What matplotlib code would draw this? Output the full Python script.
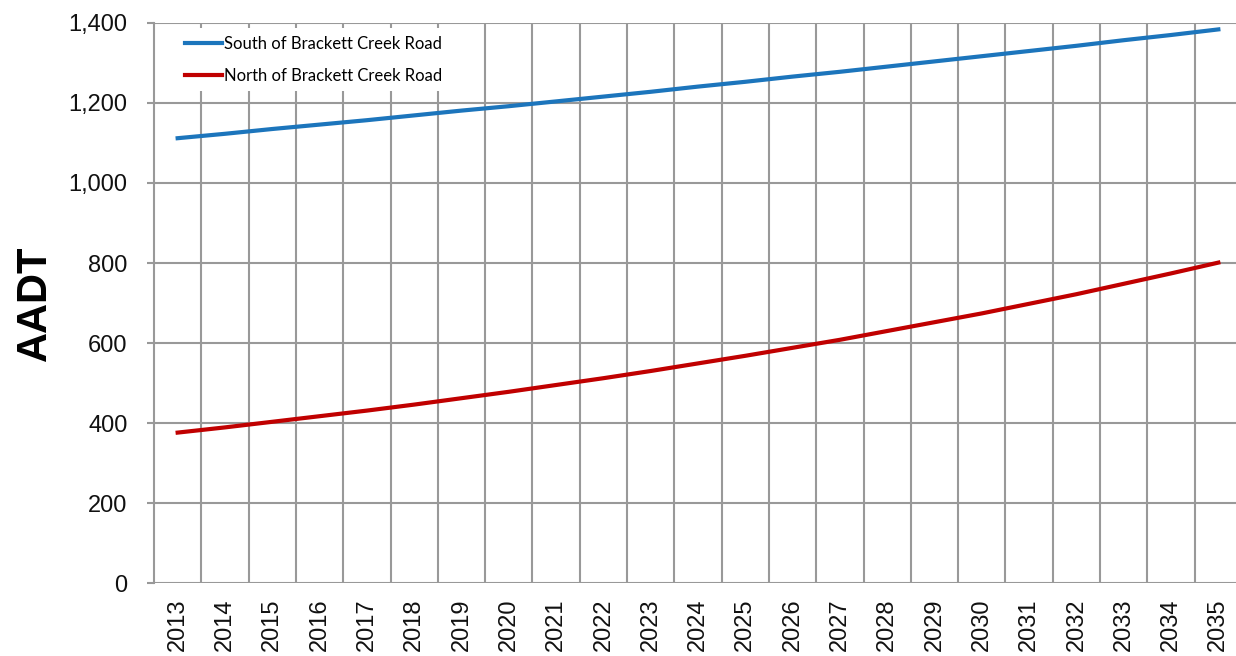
import matplotlib as mpl
mpl.use('Agg')
import matplotlib.pyplot as plt
from matplotlib.ticker import FuncFormatter, MultipleLocator

years = [str(y) for y in range(2013, 2036)]
south = [1112, 1123, 1135, 1146, 1157, 1169, 1181, 1192, 1204, 1216, 1228, 1241,
         1253, 1266, 1278, 1291, 1304, 1317, 1330, 1343, 1357, 1370, 1384]
north = [376, 389, 403, 417, 431, 446, 462, 478, 495, 512, 530, 549,
         568, 588, 608, 630, 652, 674, 698, 722, 748, 774, 801]

W, H = 1236, 656
fig = plt.figure(figsize=(W / 100, H / 100), dpi=100)
ax = fig.add_axes([154 / W, 1 - 583 / H, (1242 - 154) / W, (583 - 23) / H])

x = list(range(len(years)))
ax.plot(x, south, color='#1C75BC', lw=3, label='South of Brackett Creek Road', zorder=3)
ax.plot(x, north, color='#C00000', lw=3, label='North of Brackett Creek Road', zorder=3)

grid_c = '#999999'
ax.set_xlim(-0.5, len(years) - 0.5)
ax.set_ylim(0, 1400)
ax.yaxis.set_major_locator(MultipleLocator(200))
ax.yaxis.set_major_formatter(FuncFormatter(lambda v, p: '{:,.0f}'.format(v)))
ax.set_xticks(x)
ax.set_xticklabels(years, rotation=90)
ax.set_xticks([i + 0.5 for i in x[:-1]], minor=True)

ax.grid(axis='y', which='major', color=grid_c, lw=1.5)
ax.grid(axis='x', which='minor', color=grid_c, lw=1.5)
ax.set_axisbelow(True)
for s in ['top', 'right', 'bottom']:
    ax.spines[s].set_visible(False)
ax.spines['left'].set_color(grid_c)
ax.spines['left'].set_linewidth(1.5)

ax.tick_params(axis='y', length=5, width=1.5, color=grid_c, pad=14,
               labelsize=17, labelcolor='#111111')
ax.tick_params(axis='x', which='major', length=0, pad=11,
               labelsize=17, labelcolor='#111111')
ax.tick_params(axis='x', which='minor', length=0)
for t in ax.get_xticklabels() + ax.get_yticklabels():
    t.set_fontfamily('Liberation Sans')

fig.text(35 / W, 1 - 303 / H, 'AADT', rotation=90, fontsize=30, fontweight='bold',
         family='Liberation Sans', ha='center', va='center')

leg = ax.legend(loc='upper left', bbox_to_anchor=(174 / W, 1 - 25 / H),
                bbox_transform=fig.transFigure, frameon=True, framealpha=1,
                edgecolor='white', fancybox=False, handlelength=2.25,
                handletextpad=0.1, labelspacing=0.95, borderpad=0.45,
                borderaxespad=0.2, prop={'family': 'Lato', 'size': 12})
leg.get_frame().set_linewidth(0)

fig.savefig('out.png', dpi=100)
